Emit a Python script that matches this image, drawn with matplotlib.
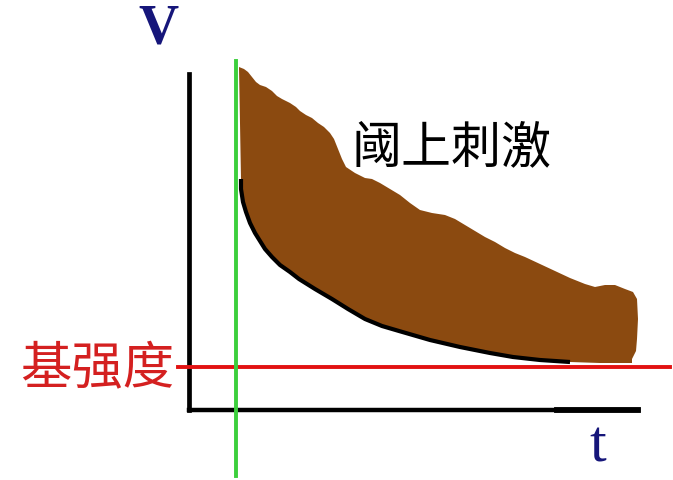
import matplotlib.pyplot as plt
import numpy as np

plt.rcParams['font.family'] = ['Noto Sans CJK SC', 'DejaVu Sans']

# strength-duration curve (threshold V against stimulus duration t)
curve_t = [52, 52, 54, 57, 61, 66, 71, 76, 83, 91, 101, 110, 126, 143, 159,
           176, 193, 210, 241, 271, 301, 324, 351, 381]
curve_v = [231, 221, 208, 198, 187, 177, 169, 161, 153, 145, 138, 131, 121, 111, 101,
           91, 84, 79, 70, 63, 57, 53, 50, 48]

# ragged upper edge of the supra-threshold region
upper_t = [50, 55, 59, 63, 67, 71, 77, 83, 88, 93, 101, 107, 111, 117, 123, 129,
           135, 141, 145, 149, 153, 157, 166, 176, 183, 191, 201, 211, 221, 231,
           243, 256, 266, 276, 286, 296, 306, 316, 326, 336, 351, 366, 381, 396,
           406, 416, 426, 436, 444, 448, 449, 448, 447, 443]
upper_v = [343, 341, 338, 333, 328, 325, 323, 319, 314, 311, 307, 303, 299, 295, 292, 287,
           283, 277, 271, 261, 251, 243, 237, 232, 231, 227, 221, 215, 207, 200,
           197, 195, 191, 185, 179, 173, 168, 162, 157, 153, 146, 139, 132, 126,
           123, 125, 125, 121, 118, 111, 91, 71, 59, 51]
# lower edge follows the curve out to the right end
lower_t = curve_t + [411, 443]
lower_v = curve_v + [47, 47]

rheobase = 43        # V level of the rheobase line
chronaxie_t = 47     # t position of the green marker line
v_axis_top = 336
t_axis_end = 449

fig = plt.figure(figsize=(6.73, 4.81), dpi=100)
ax = fig.add_axes([0, 0, 1, 1])
ax.set_xlim(-189, 484)
ax.set_ylim(-70, 411)
ax.axis('off')

# shaded region between the curve and the upper edge
poly_t = np.concatenate([upper_t, lower_t[::-1]])
poly_v = np.concatenate([upper_v, lower_v[::-1]])
ax.fill(poly_t, poly_v, color='#8b4a10', lw=0, zorder=2)

ax.plot(curve_t, curve_v, color='black', lw=3, zorder=3, solid_capstyle='butt')

# axes
ax.plot([0, 0], [0, v_axis_top], color='black', lw=3.4, zorder=4)
ax.plot([0, t_axis_end], [0, 0], color='black', lw=3.2, zorder=4)
ax.plot([368, t_axis_end], [0, 0], color='black', lw=4.2, zorder=4)

# rheobase and vertical marker
ax.plot([-11, 481], [rheobase, rheobase], color='#e21212', lw=2.8, zorder=5)
ax.plot([chronaxie_t, chronaxie_t], [-66, 349], color='#3ccf3c', lw=2.8, zorder=6)

ax.text(-31, 381, 'V', color='#16167a', fontsize=40, fontweight='bold',
        family='Liberation Serif', ha='center', va='center')
ax.text(409, -37, 't', color='#16167a', fontsize=43,
        family='Liberation Serif', ha='center', va='center')
ax.text(-92, 41, '基强度', color='#d42020', fontsize=37,
        ha='center', va='center', fontweight='light')
ax.text(262, 263, '阈上刺激', color='black', fontsize=36,
        ha='center', va='center', fontweight='light')

fig.savefig('out.png', dpi=100)
